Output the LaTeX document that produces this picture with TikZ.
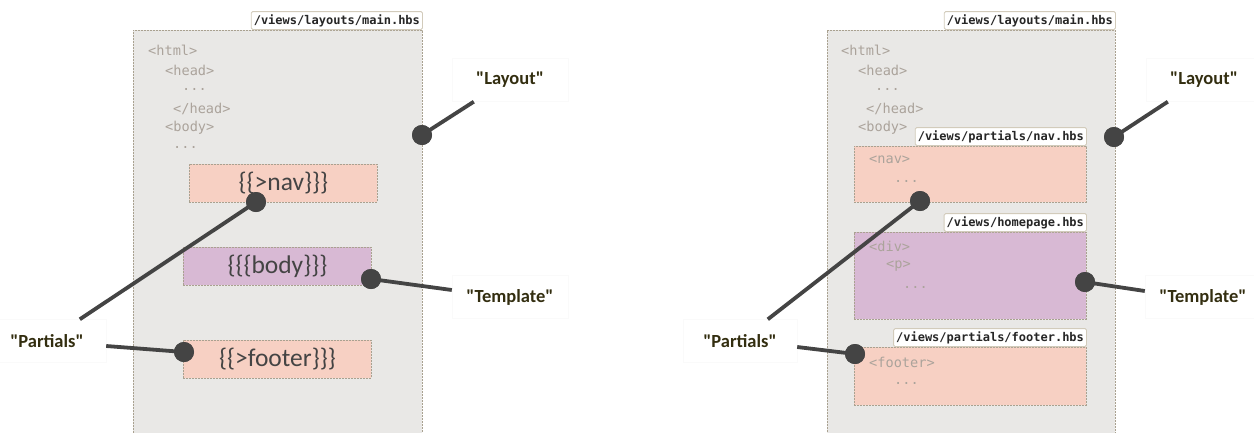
\documentclass[tikz,border=0pt]{standalone}
\usepackage{fontspec}
\setmainfont{Carlito}[Ligatures=TeXOff]
\newfontfamily\codefont{DejaVu Sans Mono}
\usetikzlibrary{calc}
\definecolor{layoutfill}{HTML}{E9E8E6}
\definecolor{bordc}{HTML}{A9A190}
\definecolor{partfill}{HTML}{F7D0C3}
\definecolor{tplfill}{HTML}{D8B9D4}
\definecolor{codec}{HTML}{ABA39B}
\definecolor{dotc}{HTML}{444444}
\definecolor{labc}{HTML}{332E10}
\definecolor{tabborder}{HTML}{D2CBBB}
\definecolor{faint}{HTML}{FAFAFA}
\begin{document}
\begin{tikzpicture}[x=1pt,y=-1pt,
  region/.style={draw=bordc, dash pattern=on 2pt off 1pt, line width=0.9pt, anchor=north west, inner sep=0pt},
  layoutbox/.style={region, fill=layoutfill},
  partbox/.style={region, fill=partfill},
  tplbox/.style={region, fill=tplfill},
  code/.style={anchor=west, inner sep=0pt, text=codec, font=\codefont\fontsize{13.6}{14}\selectfont},
  big/.style={inner sep=0pt, text=dotc, font=\fontsize{25.5}{27}\selectfont},
  tab/.style={draw=tabborder, fill=white, line width=0.9pt, rounded corners=1.5pt, anchor=south east, inner xsep=2.5pt, inner ysep=0pt, minimum height=18pt, text=black!85, font=\codefont\bfseries\fontsize{12}{13}\selectfont},
  dot/.style={circle, fill=dotc, minimum size=20pt, inner sep=0pt},
  lab/.style={draw=faint, line width=0.4pt, fill=white, minimum width=116pt, minimum height=43pt, inner sep=0pt, text=labc, font=\bfseries\fontsize{18.5}{20}\selectfont},
  conn/.style={draw=dotc, line width=3.8pt}]
\useasboundingbox (0,0) rectangle (1254,432);

% ---------------- left panel ----------------
\node[layoutbox, minimum width=289pt, minimum height=410pt] (lay1) at (133,30) {};
\node[tab] (tab1) at (lay1.north east) {/views/layouts/main.hbs};
\node[code] (c11) at (148,50) {<html>};
\node[code] (c12) at (165,70) {<head>};
\node[code] (c13) at (182,89) {...};
\node[code] (c14) at (173,109) {</head>};
\node[code] (c15) at (165,128) {<body>};
\node[code] (c16) at (173,147) {...};
\node[partbox, minimum width=188pt, minimum height=38pt] (nav1) at (189,164) {};
\node[big] at (nav1.center) {\{\{>nav\}\}\}};
\node[tplbox, minimum width=188pt, minimum height=38pt] (body1) at (183,247) {};
\node[big] at (body1.center) {\{\{\{body\}\}\}};
\node[partbox, minimum width=188pt, minimum height=38pt] (foot1) at (183,340) {};
\node[big] at (foot1.center) {\{\{>footer\}\}\}};

\node[lab] (labL1) at (510,80) {"Layout"};
\node[lab] (labT1) at (510,297) {"Template"};
\node[lab, minimum width=118pt] (labP1) at (47,341) {"Partials"};

\node[dot] (dL1) at (422,135) {};
\node[dot] (dN1) at (256,202) {};
\node[dot] (dB1) at (371,279) {};
\node[dot] (dF1) at (184,352) {};

\draw[conn] (dL1.center) -- ([xshift=22pt]labL1.south west);
\draw[conn] (dB1.center) -- ([yshift=7pt]labT1.west);
\draw[conn] (dN1.center) -- ([xshift=92pt]labP1.north west);
\draw[conn] (dF1.center) -- ([yshift=-5pt]labP1.east);
\node[dot] at (dL1) {};
\node[dot] at (dN1) {};
\node[dot] at (dB1) {};
\node[dot] at (dF1) {};

% ---------------- right panel ----------------
\node[layoutbox, minimum width=288pt, minimum height=410pt] (lay2) at (827,30) {};
\node[tab] (tab2) at (lay2.north east) {/views/layouts/main.hbs};
\node[code] (c21) at (841,50) {<html>};
\node[code] (c22) at (858,70) {<head>};
\node[code] (c23) at (875,89) {...};
\node[code] (c24) at (866,109) {</head>};
\node[code] (c25) at (858,128) {<body>};

\node[partbox, minimum width=232pt, minimum height=56pt] (nav2) at (854,146) {};
\node[tab] (tabN2) at (nav2.north east) {/views/partials/nav.hbs};
\node[code] (n21) at (869,160) {<nav>};
\node[code] (n22) at (894,181) {...};

\node[tplbox, minimum width=232pt, minimum height=87pt] (body2) at (854,232) {};
\node[tab] (tabB2) at (body2.north east) {/views/homepage.hbs};
\node[code] (b21) at (869,246) {<div>};
\node[code] (b22) at (886,266) {<p>};
\node[code] (b23) at (903,287) {...};

\node[partbox, minimum width=232pt, minimum height=58pt] (foot2) at (854,347) {};
\node[tab] (tabF2) at (foot2.north east) {/views/partials/footer.hbs};
\node[code] (f21) at (869,362) {<footer>};
\node[code] (f22) at (894,383) {...};

\node[lab] (labL2) at (1204,80) {"Layout"};
\node[lab] (labT2) at (1203,297) {"Template"};
\node[lab, minimum width=114pt] (labP2) at (740,341) {"Partials"};

\node[dot] (dL2) at (1114,137) {};
\node[dot] (dN2) at (920,201) {};
\node[dot] (dB2) at (1085,282) {};
\node[dot] (dF2) at (855,354) {};

\draw[conn] (dL2.center) -- ([xshift=22pt]labL2.south west);
\draw[conn] (dB2.center) -- ([yshift=6pt]labT2.west);
\draw[conn] (dN2.center) -- ([xshift=85pt]labP2.north west);
\draw[conn] (dF2.center) -- ([yshift=-6pt]labP2.east);
\node[dot] at (dL2) {};
\node[dot] at (dN2) {};
\node[dot] at (dB2) {};
\node[dot] at (dF2) {};
\end{tikzpicture}
\end{document}
